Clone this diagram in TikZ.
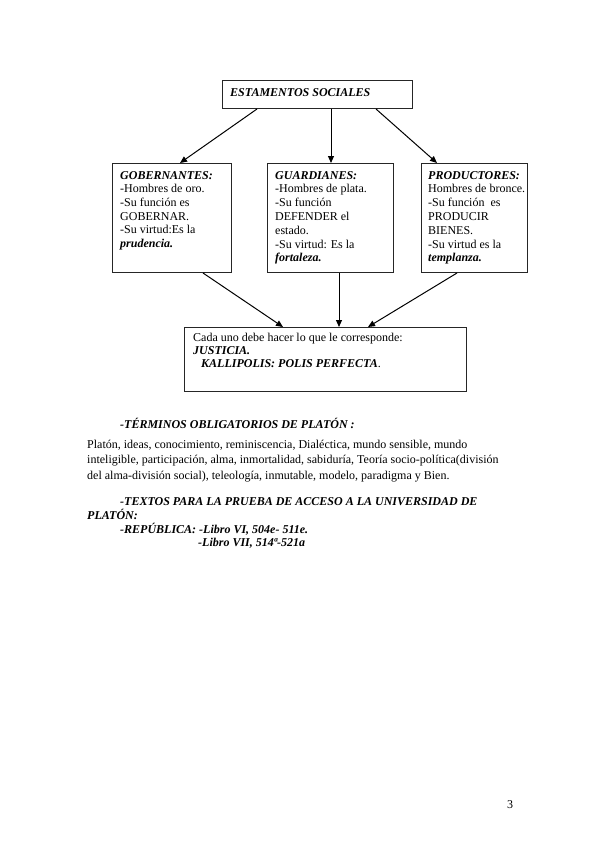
\documentclass[tikz,border=0pt]{standalone}
\usepackage{fontspec}
\setmainfont{Liberation Serif}
\usetikzlibrary{arrows.meta}
\newcommand\Lines[2]{\vtop{\baselineskip=#1\lineskiplimit=-10pt\halign{##\hfil\cr#2\crcr}}}
\newcommand\bi[1]{{\bfseries\itshape #1}}
\tikzset{
  box/.style={draw=black!85, line width=1pt, inner sep=0pt, anchor=north west},
  txt/.style={anchor=base west, inner sep=0pt, font=\fontsize{12}{13.8}\selectfont},
  arr/.style={draw=black, line width=1pt, -{Triangle[length=7pt,width=6pt]}}
}
\begin{document}
\begin{tikzpicture}[x=1pt,y=-1pt]
\useasboundingbox (0,0) rectangle (599,848);
% boxes
\node[box, minimum width=190pt, minimum height=28pt] (top) at (222,80) {};
\node[box, minimum width=119pt, minimum height=109pt] (gob) at (112,163) {};
\node[box, minimum width=126pt, minimum height=109pt] (gua) at (267,163) {};
\node[box, minimum width=106pt, minimum height=109pt] (pro) at (421,163) {};
\node[box, minimum width=282pt, minimum height=64pt] (bot) at (184,327) {};
% texts in boxes
\node[txt] (ttop) at (230,97) {\bi{ESTAMENTOS SOCIALES}};
\node[txt] (tgob) at (120,179) {\Lines{13.7pt}{\bi{GOBERNANTES:}\cr -Hombres de oro.\cr -Su función es\cr GOBERNAR.\cr -Su virtud:Es la\cr \bi{prudencia.}}};
\node[txt] (tgua) at (275,179) {\Lines{13.8pt}{\bi{GUARDIANES:}\cr -Hombres de plata.\cr -Su función\cr DEFENDER el\cr estado.\cr -Su virtud: Es la\cr \bi{fortaleza.}}};
\node[txt] (tpro) at (428,179) {\Lines{13.8pt}{\bi{PRODUCTORES:}\cr Hombres de bronce.\cr -Su función\ \ es\cr PRODUCIR\cr BIENES.\cr -Su virtud es la\cr \bi{templanza.}}};
\node[txt] (tbot) at (193,341) {\Lines{13pt}{Cada uno debe hacer lo que le corresponde:\cr \bi{JUSTICIA.}\cr \hspace{8pt}\bi{KALLIPOLIS: POLIS PERFECTA}.}};
% arrows
\draw[arr] ([xshift=35pt]top.south west) -- ([xshift=68pt]gob.north west);
\draw[arr] ([xshift=109pt]top.south west) -- ([xshift=64pt]gua.north west);
\draw[arr] ([xshift=154pt]top.south west) -- ([xshift=16pt]pro.north west);
\draw[arr] ([xshift=91pt]gob.south west) -- ([xshift=99pt]bot.north west);
\draw[arr] ([xshift=72pt]gua.south west) -- ([xshift=155pt]bot.north west);
\draw[arr] ([xshift=36pt]pro.south west) -- ([xshift=184pt]bot.north west);
% lower text
\node[txt] (h1) at (120,428) {\bi{-TÉRMINOS OBLIGATORIOS DE PLATÓN :}};
\node[txt] (p1) at (87,448) {\Lines{15.5pt}{Platón, ideas, conocimiento, reminiscencia, Dialéctica, mundo sensible, mundo\cr inteligible, participación, alma, inmortalidad, sabiduría, Teoría socio-política(división\cr del alma-división social), teleología, inmutable, modelo, paradigma y Bien.}};
\node[txt] (h2) at (120,505) {\bi{-TEXTOS PARA LA PRUEBA DE ACCESO A LA UNIVERSIDAD DE}};
\node[txt] (h2b) at (87,519) {\bi{PLATÓN:}};
\node[txt] (r1) at (120,533) {\bi{-REPÚBLICA: -Libro VI, 504e- 511e.}};
\node[txt] (r2) at (198,546.5) {\bi{-Libro VII, 514ª-521a}};
\node[txt] (pg) at (507,808) {3};
\end{tikzpicture}
\end{document}
